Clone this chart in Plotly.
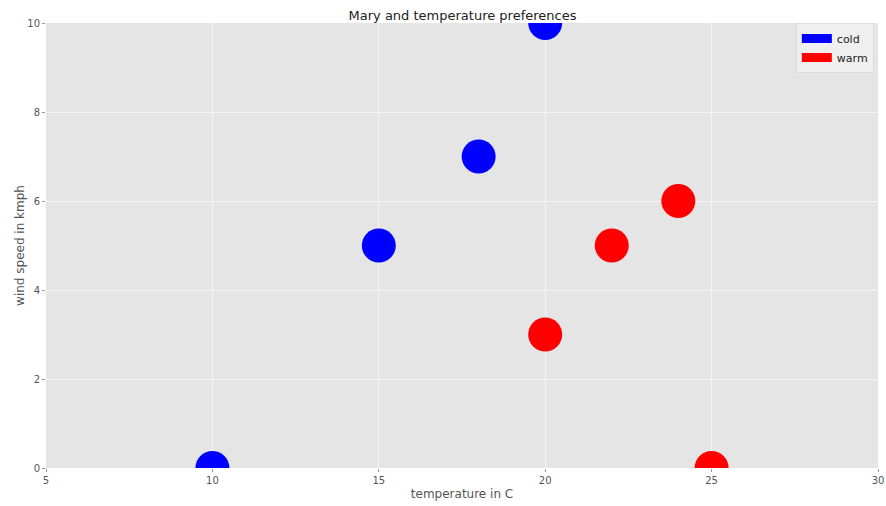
import plotly.graph_objects as go

cold_x = [10, 15, 18, 20]
cold_y = [0, 5, 7, 10]
warm_x = [20, 22, 24, 25]
warm_y = [3, 5, 6, 0]
x_ticks = [5, 10, 15, 20, 25, 30]
y_ticks = [0, 2, 4, 6, 8, 10]

fig = go.Figure()
fig.add_trace(go.Scatter(x=cold_x, y=cold_y, mode="markers", showlegend=False,
                         marker=dict(color="#0000ff", size=34, line=dict(width=0))))
fig.add_trace(go.Scatter(x=warm_x, y=warm_y, mode="markers", showlegend=False,
                         marker=dict(color="#ff0000", size=34, line=dict(width=0))))
fig.add_trace(go.Scatter(x=[None], y=[None], mode="lines", name="cold",
                         line=dict(color="#0000ff", width=9)))
fig.add_trace(go.Scatter(x=[None], y=[None], mode="lines", name="warm",
                         line=dict(color="#ff0000", width=9)))

axis_common = dict(showgrid=True, gridcolor="#f4f4f4", gridwidth=1, zeroline=False,
                   showline=False, ticks="outside", ticklen=3, tickcolor="#999999",
                   tickfont=dict(size=10, color="#555555", family="DejaVu Sans"),
                   fixedrange=True, automargin=False)

fig.update_layout(
    width=886, height=506,
    margin=dict(l=46, r=8, t=23, b=38),
    paper_bgcolor="white", plot_bgcolor="#e5e5e5",
    title=dict(text="Mary and temperature preferences", x=0.522, xanchor="center",
               y=0.979, yanchor="top", automargin=False,
               font=dict(size=13, color="#222222", family="DejaVu Sans")),
    xaxis=dict(range=[5, 30], tickvals=x_ticks,
               title=dict(text="temperature in C", standoff=4,
                          font=dict(size=12, color="#555555", family="DejaVu Sans")),
               **axis_common),
    yaxis=dict(range=[0, 10], tickvals=y_ticks,
               title=dict(text="wind speed in kmph", standoff=0,
                          font=dict(size=12, color="#555555", family="DejaVu Sans")),
               **axis_common),
    legend=dict(x=0.995, y=1.0, xanchor="right", yanchor="top",
                bgcolor="rgba(240,240,240,0.9)", bordercolor="#dddddd", borderwidth=1,
                font=dict(size=11, color="#222222", family="DejaVu Sans"),
                itemwidth=30, tracegroupgap=0),
)

fig.write_html("out.html", config={"displayModeBar": False},
               post_script="document.body.style.margin='0px';")
